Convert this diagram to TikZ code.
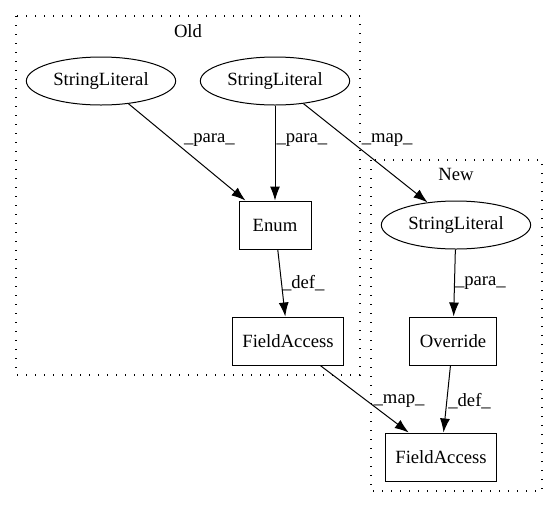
\documentclass[tikz,border=0pt]{standalone}
\usepackage{fontspec}
\setmainfont{Liberation Serif}
\usetikzlibrary{arrows.meta,shapes.geometric}

\begin{document}
\begin{tikzpicture}[->,>={Latex[length=10.5pt,width=7.5pt]},x=0.75pt,y=-0.75pt,line width=0.75pt,
  every node/.style={font=\fontsize{14}{16}\selectfont},
  lit/.style={draw,ellipse,inner sep=0pt,minimum width=112pt,minimum height=36pt},
  op/.style={draw,rectangle,inner xsep=7.7pt,minimum width=54pt,minimum height=36pt},
  lbl/.style={anchor=west,inner sep=0pt},
  cluster/.style={-,line width=1pt,dash pattern=on 1pt off 5.75pt}]
\useasboundingbox (0,0) rectangle (557,508);
% clusters
\draw[cluster] (16,16) rectangle (360,375);
\node (oldlbl) at (188,31) {Old};
\draw[cluster] (371,160) rectangle (542,491);
\node (newlbl) at (456,174) {New};
% old
\node[lit] (sl1) at (101,81) {StringLiteral};
\node[lit] (sl2) at (275,81) {StringLiteral};
\node[op] (enum) at (275,225) {Enum};
\node[op] (fa1) at (288,341) {FieldAccess};
% new
\node[lit] (sl3) at (456,225) {StringLiteral};
\node[op] (over) at (453,341) {Override};
\node[op] (fa2) at (441,457) {FieldAccess};
\path (sl1) edge node[lbl,pos=.376,xshift=8.25pt] {\_para\_} (enum)
      (sl2) edge node[lbl,pos=.365,xshift=.75pt] {\_para\_} (enum)
      (sl2) edge node[lbl,pos=.369,xshift=9pt] {\_map\_} (sl3)
      (enum) edge node[lbl,pos=.5] {\_def\_} (fa1)
      (sl3) edge node[lbl,pos=.5] {\_para\_} (over)
      (fa1) edge node[lbl,pos=.53,xshift=4.5pt] {\_map\_} (fa2)
      (over) edge node[lbl,pos=.53,xshift=.75pt] {\_def\_} (fa2);
\end{tikzpicture}
\end{document}
